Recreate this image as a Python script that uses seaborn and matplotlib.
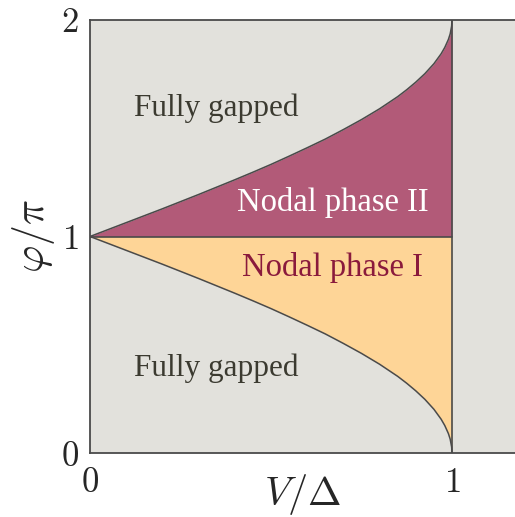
import numpy as np
import pandas as pd
import seaborn as sns
import matplotlib
matplotlib.use("Agg")
import matplotlib.pyplot as plt

# Phase boundaries (phi/pi against V/Delta)
v_vals = [0.0, 0.05, 0.1, 0.15, 0.2, 0.25, 0.3, 0.35, 0.4, 0.45, 0.5, 0.55, 0.6,
          0.65, 0.7, 0.75, 0.8, 0.85, 0.875, 0.9, 0.925, 0.95, 0.97, 0.98,
          0.99, 0.995, 0.999, 1.0]
upper_phi = [1.000, 1.032, 1.064, 1.096, 1.128, 1.161, 1.194, 1.228, 1.262, 1.297,
             1.333, 1.371, 1.410, 1.450, 1.494, 1.540, 1.590, 1.646, 1.678, 1.713,
             1.752, 1.798, 1.844, 1.873, 1.910, 1.936, 1.972, 2.000]
lower_phi = [1.000, 0.968, 0.936, 0.904, 0.872, 0.839, 0.806, 0.772, 0.738, 0.703,
             0.667, 0.629, 0.590, 0.550, 0.506, 0.460, 0.410, 0.354, 0.322, 0.287,
             0.248, 0.202, 0.156, 0.127, 0.090, 0.064, 0.028, 0.000]

region_labels = ["Fully gapped", "Nodal phase II", "Nodal phase I", "Fully gapped"]
x_ticks = [0, 1]
y_ticks = [0, 1, 2]

sns.set_theme(style="white")
plt.rcParams["font.family"] = ["Liberation Serif", "DejaVu Serif"]
plt.rcParams["mathtext.fontset"] = "cm"

gray_bg = "#e2e1dc"
magenta = "#b25a78"
orange = "#fed597"
line_col = "#4a4a4a"

df = pd.DataFrame({"V": v_vals, "upper": upper_phi, "lower": lower_phi})

fig = plt.figure(figsize=(5.15, 5.17), dpi=100)
ax = fig.add_axes([90 / 515, 64 / 517, 1 - 90 / 515, 433 / 517])
ax.set_facecolor(gray_bg)

ones = np.ones(len(df))
ax.fill_between(df["V"], ones, df["upper"], color=magenta, lw=0)
ax.fill_between(df["V"], df["lower"], ones, color=orange, lw=0)

sns.lineplot(data=df, x="V", y="upper", ax=ax, color=line_col, lw=1.1, sort=False)
sns.lineplot(data=df, x="V", y="lower", ax=ax, color=line_col, lw=1.1, sort=False)
ax.plot([0, 1], [1, 1], color=line_col, lw=1.2)
ax.plot([1, 1], [0, 2], color=line_col, lw=1.2)

ax.set_xlim(0, 425 / 362)
ax.set_ylim(0, 2)

for side in ["left", "top", "bottom"]:
    ax.spines[side].set_color(line_col)
    ax.spines[side].set_linewidth(1.3)
ax.spines["right"].set_visible(False)

ax.set_xticks(x_ticks)
ax.set_yticks(y_ticks)
ax.set_xticklabels([f"${t}$" for t in x_ticks], fontsize=25)
ax.set_yticklabels([f"${t}$" for t in y_ticks], fontsize=25)
ax.tick_params(axis="x", length=0, pad=10)
ax.tick_params(axis="y", length=0, pad=8)

ax.set_xlabel(r"$V/\Delta$", fontsize=29)
ax.xaxis.set_label_coords(0.5, -0.095)
ax.xaxis.label.set_verticalalignment("center")
ax.set_ylabel(r"$\varphi/\pi$", fontsize=30)
ax.yaxis.set_label_coords(-0.134, 0.5)
ax.yaxis.label.set_verticalalignment("center")

text_dark = "#3b3a30"
ax.text(0.122, 1.555, region_labels[0], fontsize=22.5, color=text_dark, va="baseline")
ax.text(0.406, 1.116, region_labels[1], fontsize=23.5, color="white", va="baseline")
ax.text(0.419, 0.819, region_labels[2], fontsize=23.5, color="#8a1a3c", va="baseline")
ax.text(0.122, 0.357, region_labels[3], fontsize=22.5, color=text_dark, va="baseline")

fig.savefig("out.png", dpi=100)
